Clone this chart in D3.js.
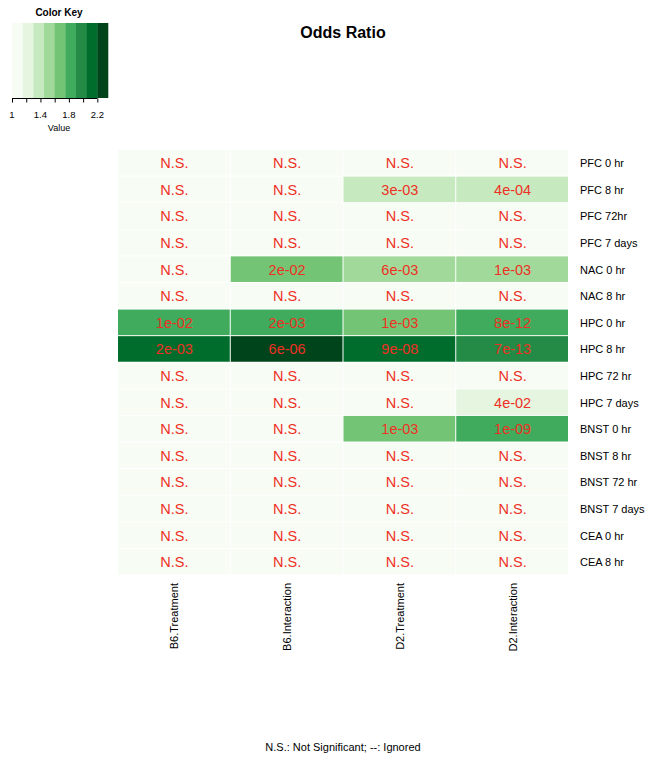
<!DOCTYPE html>
<html><head><meta charset="utf-8">
<script src="https://cdn.jsdelivr.net/npm/d3@7/dist/d3.min.js"></script>
<style>body{margin:0;background:#fff;} text{font-family:"Liberation Sans",Arial,sans-serif;}</style>
</head><body><svg id="c" width="656" height="764"></svg>
<script>
const columns = ["B6.Treatment","B6.Interaction","D2.Treatment","D2.Interaction"];
const rows = ["PFC 0 hr","PFC 8 hr","PFC 72hr","PFC 7 days","NAC 0 hr","NAC 8 hr","HPC 0 hr","HPC 8 hr","HPC 72 hr","HPC 7 days","BNST 0 hr","BNST 8 hr","BNST 72 hr","BNST 7 days","CEA 0 hr","CEA 8 hr"];
// odds ratio per row, columns in order above
const oddsRatio = [
 [1.0,1.0,1.0,1.0],
 [1.0,1.0,1.38,1.40],
 [1.0,1.0,1.0,1.0],
 [1.0,1.0,1.0,1.0],
 [1.0,1.68,1.52,1.55],
 [1.0,1.0,1.0,1.0],
 [1.85,1.82,1.70,1.86],
 [2.15,2.32,2.12,2.02],
 [1.0,1.0,1.0,1.0],
 [1.0,1.0,1.0,1.22],
 [1.0,1.0,1.68,1.88],
 [1.0,1.0,1.0,1.0],
 [1.0,1.0,1.0,1.0],
 [1.0,1.0,1.0,1.0],
 [1.0,1.0,1.0,1.0],
 [1.0,1.0,1.0,1.0]
];
const cellLabels = [
 ["N.S.","N.S.","N.S.","N.S."],
 ["N.S.","N.S.","3e-03","4e-04"],
 ["N.S.","N.S.","N.S.","N.S."],
 ["N.S.","N.S.","N.S.","N.S."],
 ["N.S.","2e-02","6e-03","1e-03"],
 ["N.S.","N.S.","N.S.","N.S."],
 ["1e-02","2e-03","1e-03","8e-12"],
 ["2e-03","6e-06","9e-08","7e-13"],
 ["N.S.","N.S.","N.S.","N.S."],
 ["N.S.","N.S.","N.S.","4e-02"],
 ["N.S.","N.S.","1e-03","1e-09"],
 ["N.S.","N.S.","N.S.","N.S."],
 ["N.S.","N.S.","N.S.","N.S."],
 ["N.S.","N.S.","N.S.","N.S."],
 ["N.S.","N.S.","N.S.","N.S."],
 ["N.S.","N.S.","N.S.","N.S."]
];
const keyBreaks = [1,1.15,1.3,1.45,1.6,1.75,1.9,2.05,2.2,2.35];
const keyColors = ["#f7fcf5","#e5f5e0","#c7e9c0","#a1d99b","#74c476","#41ab5d","#238b45","#006d2c","#00441b"];
const keyTicks = [1,1.2,1.4,1.6,1.8,2.0,2.2];
const keyTickLabels = [1,1.4,1.8,2.2];

const svg = d3.select("#c");
const color = d3.scaleThreshold().domain(keyBreaks.slice(1,-1)).range(keyColors);

const x = d3.scaleBand().domain(columns).range([118,569]);
const y = d3.scaleBand().domain(rows).range([150,575.5]);

const cells = [];
rows.forEach((r,i)=>columns.forEach((c,j)=>cells.push({r,c,v:oddsRatio[i][j],t:cellLabels[i][j]})));

svg.append("g").selectAll("rect").data(cells).join("rect")
  .attr("x",d=>x(d.c)).attr("y",d=>y(d.r))
  .attr("width",x.bandwidth()-1).attr("height",y.bandwidth()-1)
  .attr("fill",d=>color(d.v));

svg.append("g").selectAll("text").data(cells).join("text")
  .attr("x",d=>x(d.c)+x.bandwidth()/2).attr("y",d=>y(d.r)+y.bandwidth()/2+5)
  .attr("text-anchor","middle").attr("font-size",14.5).attr("fill","#ee3024")
  .text(d=>d.t);

// row labels
svg.append("g").selectAll("text").data(rows).join("text")
  .attr("x",580).attr("y",d=>y(d)+y.bandwidth()/2+4)
  .attr("font-size",11).attr("fill","#000").text(d=>d);

// column labels
svg.append("g").selectAll("text").data(columns).join("text")
  .attr("transform",d=>`translate(${x(d)+x.bandwidth()/2+4},583) rotate(-90)`)
  .attr("text-anchor","end").attr("font-size",11).attr("fill","#000").text(d=>d);

// title
svg.append("text").attr("x",343).attr("y",38).attr("text-anchor","middle")
  .attr("font-size",16).attr("font-weight","bold").text("Odds Ratio");

// footnote
svg.append("text").attr("x",343).attr("y",751).attr("text-anchor","middle")
  .attr("font-size",11).text("N.S.: Not Significant; --: Ignored");

// color key
const kx = d3.scaleLinear().domain([1,2.35]).range([12,108]);
const key = svg.append("g");
key.selectAll("rect").data(keyColors).join("rect")
  .attr("x",(d,i)=>kx(keyBreaks[i])).attr("y",23)
  .attr("width",(d,i)=>kx(keyBreaks[i+1])-kx(keyBreaks[i])+0.3).attr("height",75)
  .attr("fill",d=>d);
key.append("g").attr("transform","translate(0,98.5)")
  .call(d3.axisBottom(kx).tickValues(keyTicks).tickSize(4).tickFormat(()=>""))
  .call(g=>{g.select(".domain").attr("d",`M${kx(1)},0H${kx(2.2)}`).attr("stroke","#000");g.selectAll("line").attr("stroke","#000");});
key.selectAll(".tl").data(keyTickLabels).join("text").attr("class","tl")
  .attr("x",d=>kx(d)).attr("y",118).attr("text-anchor","middle").attr("font-size",9.5).text(d=>d);
key.append("text").attr("x",59).attr("y",131).attr("text-anchor","middle").attr("font-size",9).text("Value");
key.append("text").attr("x",59).attr("y",16).attr("text-anchor","middle").attr("font-size",10).attr("font-weight","bold").text("Color Key");
</script></body></html>
